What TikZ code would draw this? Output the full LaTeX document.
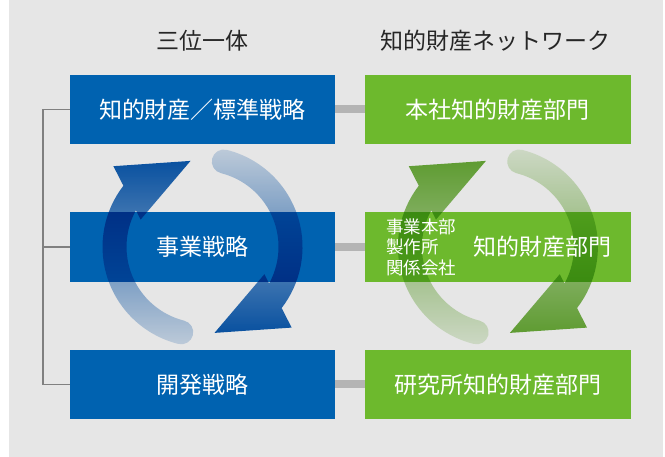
\documentclass[tikz,border=0pt]{standalone}
\usepackage{fontspec}
\setmainfont{Noto Sans CJK JP}
\usepackage{tikz}
\usetikzlibrary{positioning,fadings}

\definecolor{pagegrey}{HTML}{E6E6E6}
\definecolor{boxblue}{HTML}{0062B0}
\definecolor{boxgreen}{HTML}{6DB92D}
\definecolor{linkgrey}{HTML}{B4B4B4}
\definecolor{bracketgrey}{HTML}{808080}
\definecolor{arrowblue}{HTML}{0A5AB2}
\definecolor{arrowgreen}{HTML}{6AAE38}

\pgfdeclarelayer{boxes}
\pgfdeclarelayer{arrows}
\pgfsetlayers{boxes,arrows,main}

\tikzfading[name=fadeup, top color=transparent!82, bottom color=transparent!0]
\tikzfading[name=fadedown, top color=transparent!0, bottom color=transparent!82]

% two half turns round the centre of a node
\newcommand{\cyclearrows}[2]{%
  \begin{scope}[shift={(#1.center)}]
    \fill[#2, blend mode=multiply, path fading=fadeup]
      (76:100) arc[start angle=76, end angle=-37.7, radius=100]
      -- (89.1,-80.7) -- (12,-86) -- (61.9,-27.3)
      -- (-28.8:76) arc[start angle=-28.8, end angle=76, radius=76]
      arc[start angle=256, end angle=76, radius=12] -- cycle;
    \fill[#2, blend mode=multiply, path fading=fadedown]
      (256:100) arc[start angle=256, end angle=142.3, radius=100]
      -- (-89.1,80.7) -- (-12,86) -- (-61.9,27.3)
      -- (151.2:76) arc[start angle=151.2, end angle=256, radius=76]
      arc[start angle=76, end angle=-104, radius=12] -- cycle;
  \end{scope}}

\begin{document}
\begin{tikzpicture}[x=1pt, y=1pt, node distance=68pt and 30pt,
    box/.style={minimum width=265pt, minimum height=69pt, inner sep=0pt,
      text=white, font=\fontsize{23}{27}\selectfont},
    header/.style={inner sep=0pt, text=black!85, font=\fontsize{23}{27}\selectfont},
    small/.style={inner sep=0pt, text=white, align=left,
      font=\fontsize{17.5}{20.5}\selectfont},
    link/.style={draw=linkgrey, line width=8pt},
    bracket/.style={draw=bracketgrey, line width=1.5pt}]
  \useasboundingbox (0,0) rectangle (665,-457);

  \node[box]                 (know) at (202.5,-109.5) {知的財産／標準戦略};
  \node[box, below=of know]  (biz)  {事業戦略};
  \node[box, below=of biz]   (dev)  {開発戦略};
  \node[box, right=of know]  (hq)   {本社知的財産部門};
  \node[box, right=of biz]   (div)  {};
  \node[box, right=of dev]   (lab)  {研究所知的財産部門};
  \node[small, right=21pt of div.west] (units) {事業本部\\製作所\\関係会社};
  \node[box, minimum width=0pt, minimum height=0pt, left=19pt of div.east] (divip) {知的財産部門};

  \node[header] (trinity) at ([yshift=34pt]know.north) {三位一体};
  \node[header] (network) at ([yshift=34pt,xshift=-2pt]hq.north) {知的財産ネットワーク};

  \begin{pgfonlayer}{boxes}
    \fill[pagegrey] (9,0) rectangle (663,-457);
    \foreach \n in {know,biz,dev}
      \fill[boxblue] (\n.north west) rectangle (\n.south east);
    \foreach \n in {hq,div,lab}
      \fill[boxgreen] (\n.north west) rectangle (\n.south east);
  \end{pgfonlayer}

  \begin{pgfonlayer}{arrows}
    \cyclearrows{biz}{arrowblue}
    \cyclearrows{div}{arrowgreen}
  \end{pgfonlayer}

  \draw[link] (know) -- (hq);
  \draw[link] (biz) -- (div);
  \draw[link] (dev) -- (lab);

  \coordinate[left=27pt of know.west] (spine);
  \draw[bracket] (know.west) -- (spine) |- (dev.west);
  \draw[bracket] (biz.west) -- (biz.west -| spine);
\end{tikzpicture}
\end{document}
